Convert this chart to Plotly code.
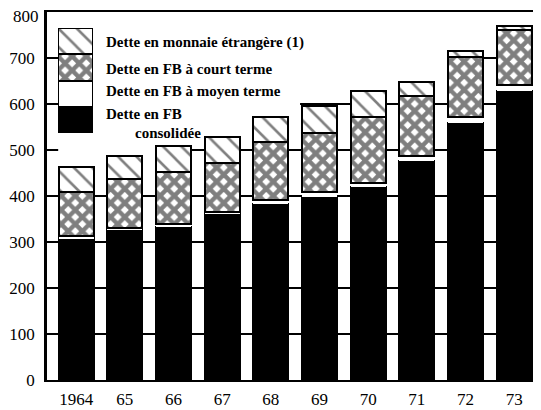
import plotly.graph_objects as go

# ---- data (milliards FB) ----
years = ["1964", "65", "66", "67", "68", "69", "70", "71", "72", "73"]
consolidee = [308, 327, 332, 363, 383, 397, 420, 477, 558, 629]
moyen_terme = [4, 3, 8, 3, 8, 12, 9, 9, 14, 12]
court_terme = [97, 106, 112, 105, 126, 127, 142, 131, 131, 120]
etrangere = [55, 52, 57, 57, 55, 60, 57, 30, 13, 8]

legend_labels = [
    "Dette en monnaie étrangère (1)",
    "Dette en FB à court terme",
    "Dette en FB à moyen terme",
    "Dette en FB",
    "consolidée",
]
yticks = [0, 100, 200, 300, 400, 500, 600, 700, 800]
ytop_label = "800"

SERIF = "Liberation Serif, Times New Roman, serif"
LW = 2.5
BW = 0.72

fig = go.Figure()

def add_series(y, x, fill, shape, lw, xa="x", ya="y", width=BW, sz=10, sol=0.3):
    pat = dict(shape=shape, fgcolor="black", bgcolor="white", size=sz, solidity=sol) if shape else None
    fig.add_trace(go.Bar(
        x=x, y=y, xaxis=xa, yaxis=ya, width=width,
        marker=dict(color=fill, line=dict(color="black", width=lw), pattern=pat),
        showlegend=False, hoverinfo="skip"))

XS, XSOL = 10, 0.68
HS, HSOL = 13, 0.2

add_series(consolidee, years, "black", "", LW)
add_series(moyen_terme, years, "white", "", 0)
add_series(court_terme, years, "white", "x", LW, sz=XS, sol=XSOL)
add_series(etrangere, years, "white", "\\", LW, sz=HS, sol=HSOL)

# legend block (inset axes)
add_series([1], [0], "black", "", LW, "x2", "y2", width=1)
add_series([1], [0], "white", "", LW, "x2", "y2", width=1)
add_series([1], [0], "white", "x", LW, "x2", "y2", width=1, sz=XS, sol=XSOL)
add_series([1], [0], "white", "\\", LW, "x2", "y2", width=1, sz=HS, sol=HSOL)

# page has an 8px body margin: the figure is offset by 8px
OFF = 8
W, H = 541 - OFF, 410 - OFF
PL, PR, PT, PB = 47, 540, 12, 380          # plot area in screen pixels
L, T = PL - OFF, PT - OFF
R = W - (PR - OFF)
B = H - (PB - OFF)
pw, ph = PR - PL, PB - PT

def px_x(p):
    return (p - PL) / pw

def px_y(p):
    return 1 - (p - PT) / ph

fig.update_layout(
    width=W, height=H,
    margin=dict(l=L, r=R, t=T, b=B, pad=0),
    paper_bgcolor="white", plot_bgcolor="white",
    barmode="stack", bargap=0,
    font=dict(family=SERIF, color="black", size=17),
    xaxis=dict(type="category", range=[-0.6, 9.53], showline=True, linecolor="black",
               linewidth=2, mirror=True, showgrid=False, ticks="", ticklabelstandoff=3,
               automargin=False,
               tickfont=dict(family=SERIF, size=17, color="black")),
    yaxis=dict(range=[0, 800], tickvals=yticks, showline=True, linecolor="black",
               linewidth=2.5, mirror=True, showgrid=True, gridcolor="black", gridwidth=1.5,
               zeroline=False, ticks="", ticklabelstandoff=6, automargin=False,
               tickfont=dict(family=SERIF, size=17, color="black")),
    xaxis2=dict(domain=[px_x(58), px_x(93)], range=[-0.5, 0.5], anchor="y2",
                visible=False, fixedrange=True, automargin=False),
    yaxis2=dict(domain=[px_y(133), px_y(28)], range=[0, 4], anchor="x2",
                visible=False, fixedrange=True, automargin=False),
)

# white area behind the legend hiding gridlines
fig.add_shape(type="path", xref="x", yref="y", layer="between",
              path="M -0.37,792 L 8.36,792 L 8.36,650 L 4.6,650 L 4.6,550 L 2.3,550 L 2.3,480 L -0.37,480 Z",
              fillcolor="white", line=dict(width=0))

# top tick label, nudged down so it stays inside the page
fig.add_annotation(x=0, y=800, xref="paper", yref="y", text=ytop_label, showarrow=False,
                   xanchor="right", yanchor="middle", xshift=-6, yshift=-4,
                   font=dict(family=SERIF, size=17, color="black"))

ann_pos = [(104, 43), (104, 69), (104, 91), (104, 114), (133, 133)]
for txt, (ax_, ay_) in zip(legend_labels, ann_pos):
    fig.add_annotation(x=px_x(ax_), y=px_y(ay_), xref="paper", yref="paper",
                       text="<b>" + txt + "</b>", showarrow=False, xanchor="left",
                       yanchor="middle", font=dict(family=SERIF, size=15, color="black"))

fig.write_html("out.html")
